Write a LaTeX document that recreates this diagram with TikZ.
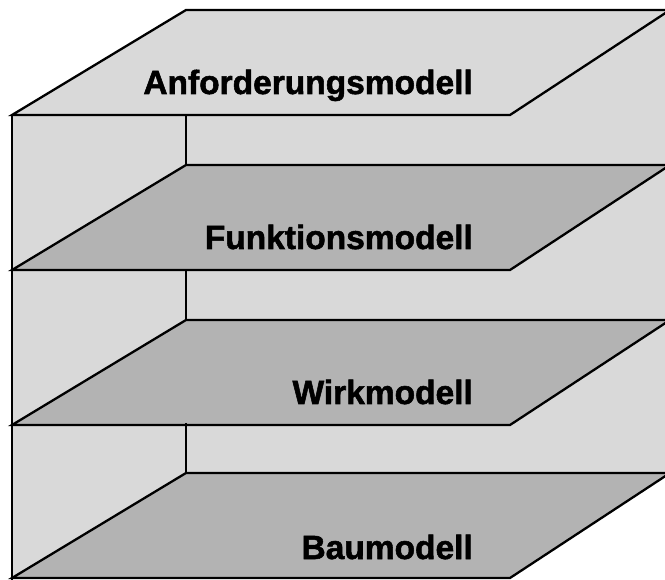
\documentclass[tikz,border=0pt]{standalone}
\usepackage{fontspec}
\setmainfont[BoldFeatures={FakeBold=1.6}]{Liberation Sans}
\definecolor{wallgray}{RGB}{217,217,217}
\definecolor{floorgray}{RGB}{179,179,179}
\begin{document}
\begin{tikzpicture}[x=1pt,y=-1pt,
  edge/.style={draw=black,line width=2.3pt,line join=miter},
  wall/.style={fill=wallgray},
  shelf/.style={fill=floorgray,edge},
  label/.style={anchor=base east,inner sep=0pt,font=\bfseries\fontsize{33.5}{40}\selectfont}]
\useasboundingbox (0,0) rectangle (665,580);
\clip (0,0) rectangle (665,580);
% overall silhouette of the open box (back wall and left wall)
\fill[wall] (12,115) -- (186,10) -- (670,10) -- (670,473) -- (510,578) -- (12,578) -- cycle;
% top lid
\path[wall,edge] (12,115) -- (186,10) -- (670,10) -- (510,115) -- cycle;
% left wall front edge
\draw[edge] (12,115) -- (12,580);
% shelves, each with its vertical back corner above it
\foreach \y in {270,425,578} {
  \draw[edge] (186,\y-155) -- (186,\y-105);
  \path[shelf] (12,\y) -- (186,\y-105) -- (670,\y-105) -- (510,\y) -- cycle;
}
% labels
\node[label] (anf) at (473,94) {Anforderungsmodell};
\node[label] (fkt) at (473,249) {Funktionsmodell};
\node[label] (wrk) at (473,404) {Wirkmodell};
\node[label] (bau) at (473,559) {Baumodell};
\end{tikzpicture}
\end{document}
